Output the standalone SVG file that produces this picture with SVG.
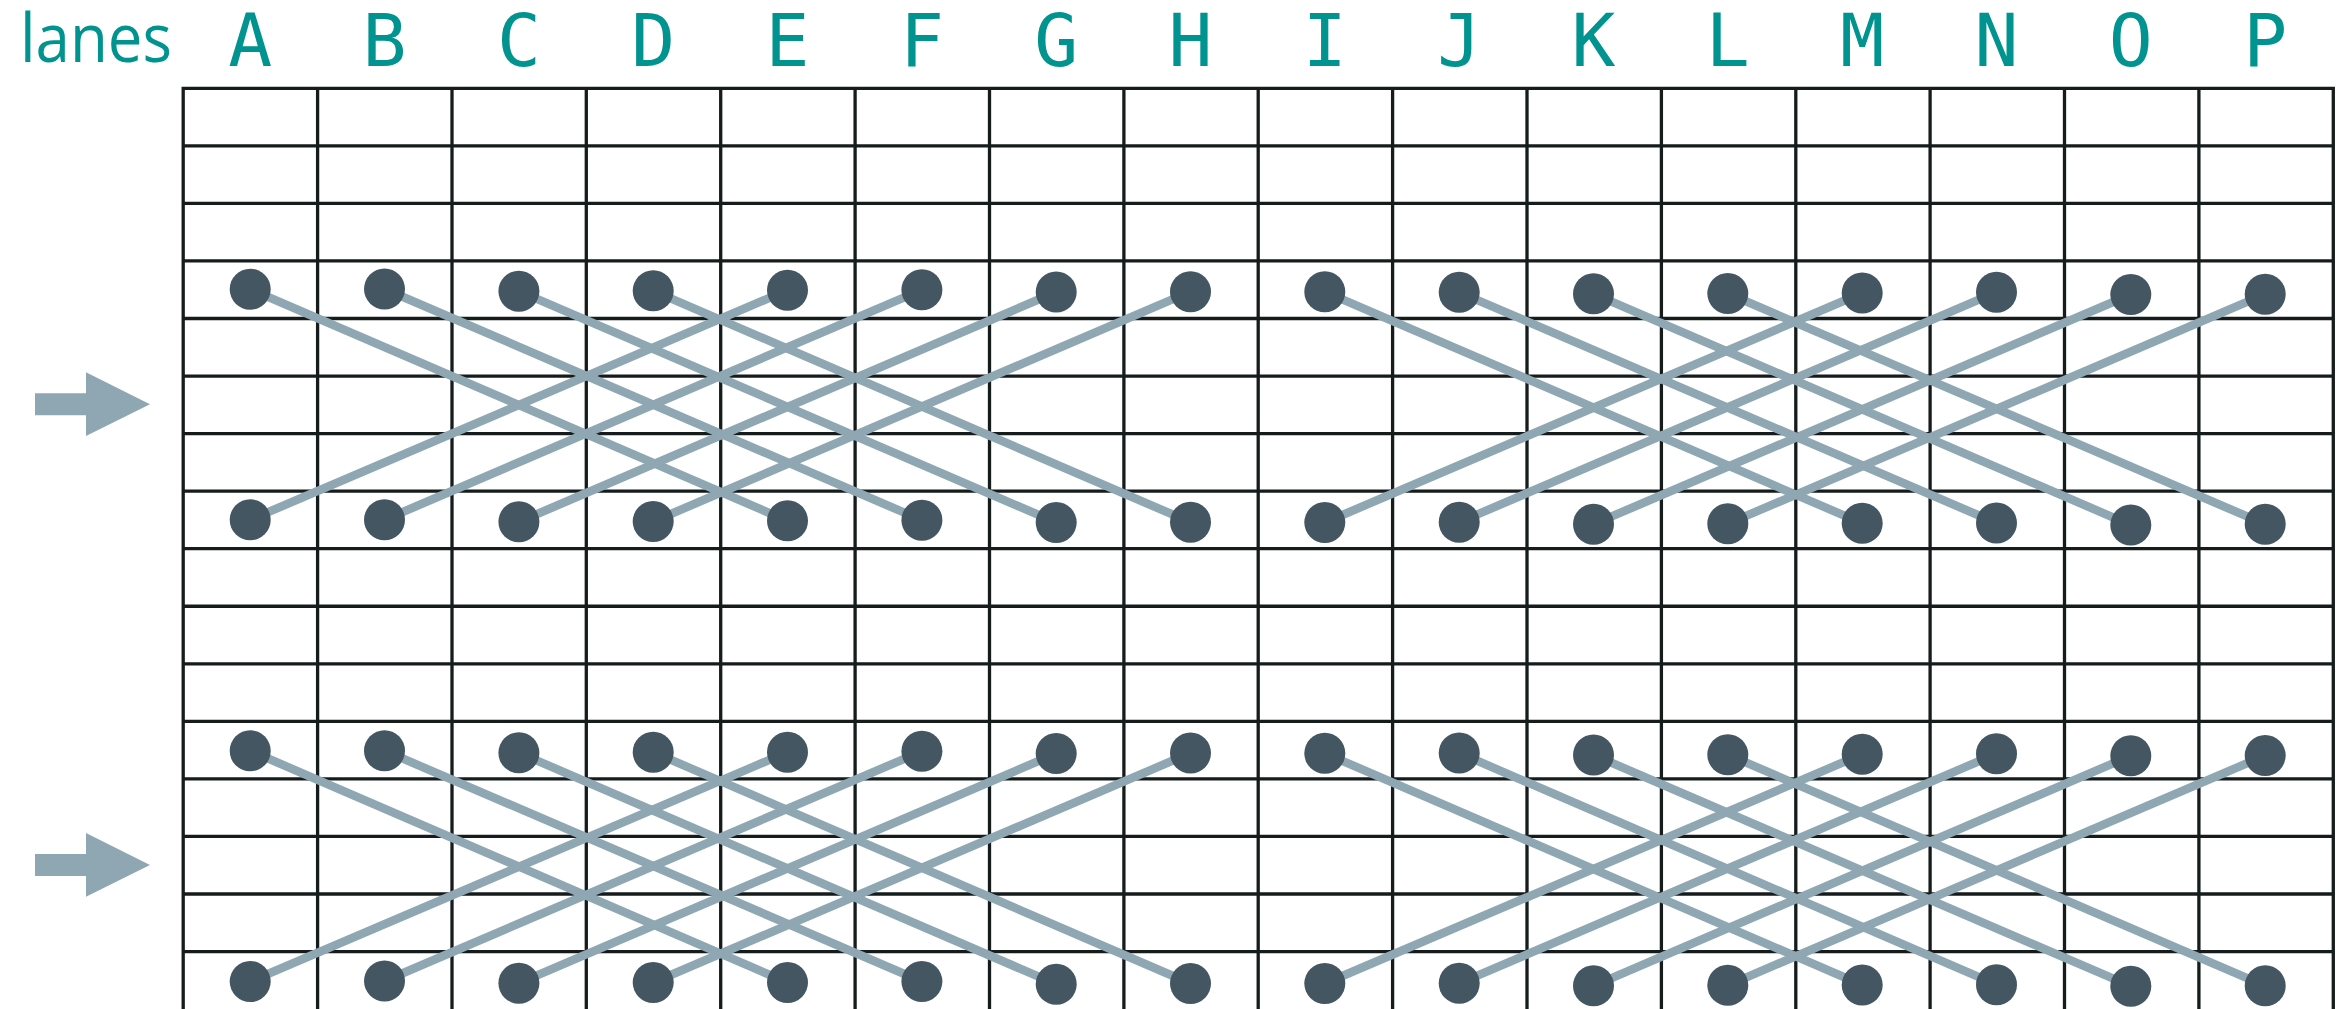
<svg xmlns="http://www.w3.org/2000/svg" xmlns:xlink="http://www.w3.org/1999/xlink" width="2346" height="1009" viewBox="0 0 2346 1009">
<style>
.lbl{font-family:"DejaVu Sans Mono","Liberation Mono",monospace;font-size:73px;fill:#00938F;text-anchor:middle}
.title{font-family:"Open Sans","Noto Sans",sans-serif;font-size:68px;fill:#00938F}
.grid{fill:none;stroke:#161c1c;stroke-width:3.3;stroke-linecap:square}
.conn line{stroke:#8FA7B2;stroke-width:8.5;stroke-linecap:butt}
.dot{fill:#435661}
.arrow{fill:#8FA7B2}
</style>
<defs>
<path id="arr" d="M35,-11 H86 V-32 L150,0 L86,31.8 V11 H35 Z"/>
</defs>
<rect width="2346" height="1009" fill="#ffffff"/>
<g id="labels">
<text class="title" x="20" y="62.3" textLength="152" lengthAdjust="spacingAndGlyphs">lanes</text>
<text class="lbl" x="250.2" y="65.5">A</text>
<text class="lbl" x="384.5" y="65.5">B</text>
<text class="lbl" x="518.9" y="65.5">C</text>
<text class="lbl" x="653.2" y="65.5">D</text>
<text class="lbl" x="787.5" y="65.5">E</text>
<text class="lbl" x="921.9" y="65.5">F</text>
<text class="lbl" x="1056.2" y="65.5">G</text>
<text class="lbl" x="1190.5" y="65.5">H</text>
<text class="lbl" x="1324.8" y="65.5">I</text>
<text class="lbl" x="1459.2" y="65.5">J</text>
<text class="lbl" x="1593.5" y="65.5">K</text>
<text class="lbl" x="1727.8" y="65.5">L</text>
<text class="lbl" x="1862.2" y="65.5">M</text>
<text class="lbl" x="1996.5" y="65.5">N</text>
<text class="lbl" x="2130.8" y="65.5">O</text>
<text class="lbl" x="2265.2" y="65.5">P</text>
</g>
<g id="arrows">
<use xlink:href="#arr" href="#arr" class="arrow" transform="translate(0,404.3)"/>
<use xlink:href="#arr" href="#arr" class="arrow" transform="translate(0,865)"/>
</g>
<g id="grid">
<path class="grid" d="M183.2,88.3V1012 M317.6,88.3V1012 M452,88.3V1012 M586.3,88.3V1012 M720.7,88.3V1012 M855.1,88.3V1012 M989.5,88.3V1012 M1123.9,88.3V1012 M1258.2,88.3V1012 M1392.6,88.3V1012 M1527,88.3V1012 M1661.4,88.3V1012 M1795.8,88.3V1012 M1930.1,88.3V1012 M2064.5,88.3V1012 M2198.9,88.3V1012 M2333.3,88.3V1012
M183.2,88.3H2333.3 M183.2,145.85H2333.3 M183.2,203.4H2333.3 M183.2,260.95H2333.3 M183.2,318.5H2333.3 M183.2,376.05H2333.3 M183.2,433.6H2333.3 M183.2,491.15H2333.3 M183.2,548.7H2333.3 M183.2,606.25H2333.3 M183.2,663.8H2333.3 M183.2,721.35H2333.3 M183.2,778.9H2333.3 M183.2,836.45H2333.3 M183.2,894H2333.3 M183.2,951.55H2333.3"/>
</g>
<g id="connectors" class="conn">
<line x1="250.2" y1="289.2" x2="787.5" y2="520.8"/>
<line x1="384.5" y1="289" x2="921.9" y2="520.2"/>
<line x1="518.9" y1="291.2" x2="1056.2" y2="522.5"/>
<line x1="653.2" y1="290.8" x2="1190.5" y2="522.2"/>
<line x1="250.2" y1="519.8" x2="787.5" y2="290.2"/>
<line x1="384.5" y1="519.8" x2="921.9" y2="289.8"/>
<line x1="518.9" y1="521.8" x2="1056.2" y2="292"/>
<line x1="653.2" y1="521.5" x2="1190.5" y2="291.7"/>
<line x1="1324.8" y1="291.8" x2="1862.2" y2="523.3"/>
<line x1="1459.2" y1="292.3" x2="1996.5" y2="523"/>
<line x1="1593.5" y1="293.8" x2="2130.8" y2="525"/>
<line x1="1727.8" y1="293.5" x2="2265.2" y2="524.2"/>
<line x1="1324.8" y1="522.5" x2="1862.2" y2="293"/>
<line x1="1459.2" y1="522.2" x2="1996.5" y2="292.2"/>
<line x1="1593.5" y1="524.2" x2="2130.8" y2="294.5"/>
<line x1="1727.8" y1="523.7" x2="2265.2" y2="294.2"/>
<line x1="250.2" y1="750.8" x2="787.5" y2="982.5"/>
<line x1="384.5" y1="750.7" x2="921.9" y2="981.5"/>
<line x1="518.9" y1="752.8" x2="1056.2" y2="984.2"/>
<line x1="653.2" y1="752.2" x2="1190.5" y2="983.5"/>
<line x1="250.2" y1="981.5" x2="787.5" y2="752.2"/>
<line x1="384.5" y1="981" x2="921.9" y2="751.3"/>
<line x1="518.9" y1="983.2" x2="1056.2" y2="753.5"/>
<line x1="653.2" y1="982.5" x2="1190.5" y2="753"/>
<line x1="1324.8" y1="753.3" x2="1862.2" y2="985"/>
<line x1="1459.2" y1="753" x2="1996.5" y2="984.7"/>
<line x1="1593.5" y1="755" x2="2130.8" y2="986.2"/>
<line x1="1727.8" y1="754.7" x2="2265.2" y2="985.8"/>
<line x1="1324.8" y1="983.5" x2="1862.2" y2="754.2"/>
<line x1="1459.2" y1="983.3" x2="1996.5" y2="753.7"/>
<line x1="1593.5" y1="985.8" x2="2130.8" y2="755.8"/>
<line x1="1727.8" y1="985.3" x2="2265.2" y2="755.5"/>
</g>
<g id="nodes">
<g id="t1-A"><circle class="dot" cx="250.2" cy="289.2" r="20.5"/></g>
<g id="t1-B"><circle class="dot" cx="384.5" cy="289" r="20.5"/></g>
<g id="t1-C"><circle class="dot" cx="518.9" cy="291.2" r="20.5"/></g>
<g id="t1-D"><circle class="dot" cx="653.2" cy="290.8" r="20.5"/></g>
<g id="t1-E"><circle class="dot" cx="787.5" cy="290.2" r="20.5"/></g>
<g id="t1-F"><circle class="dot" cx="921.9" cy="289.8" r="20.5"/></g>
<g id="t1-G"><circle class="dot" cx="1056.2" cy="292" r="20.5"/></g>
<g id="t1-H"><circle class="dot" cx="1190.5" cy="291.7" r="20.5"/></g>
<g id="t1-I"><circle class="dot" cx="1324.8" cy="291.8" r="20.5"/></g>
<g id="t1-J"><circle class="dot" cx="1459.2" cy="292.3" r="20.5"/></g>
<g id="t1-K"><circle class="dot" cx="1593.5" cy="293.8" r="20.5"/></g>
<g id="t1-L"><circle class="dot" cx="1727.8" cy="293.5" r="20.5"/></g>
<g id="t1-M"><circle class="dot" cx="1862.2" cy="293" r="20.5"/></g>
<g id="t1-N"><circle class="dot" cx="1996.5" cy="292.2" r="20.5"/></g>
<g id="t1-O"><circle class="dot" cx="2130.8" cy="294.5" r="20.5"/></g>
<g id="t1-P"><circle class="dot" cx="2265.2" cy="294.2" r="20.5"/></g>
<g id="b1-A"><circle class="dot" cx="250.2" cy="519.8" r="20.5"/></g>
<g id="b1-B"><circle class="dot" cx="384.5" cy="519.8" r="20.5"/></g>
<g id="b1-C"><circle class="dot" cx="518.9" cy="521.8" r="20.5"/></g>
<g id="b1-D"><circle class="dot" cx="653.2" cy="521.5" r="20.5"/></g>
<g id="b1-E"><circle class="dot" cx="787.5" cy="520.8" r="20.5"/></g>
<g id="b1-F"><circle class="dot" cx="921.9" cy="520.2" r="20.5"/></g>
<g id="b1-G"><circle class="dot" cx="1056.2" cy="522.5" r="20.5"/></g>
<g id="b1-H"><circle class="dot" cx="1190.5" cy="522.2" r="20.5"/></g>
<g id="b1-I"><circle class="dot" cx="1324.8" cy="522.5" r="20.5"/></g>
<g id="b1-J"><circle class="dot" cx="1459.2" cy="522.2" r="20.5"/></g>
<g id="b1-K"><circle class="dot" cx="1593.5" cy="524.2" r="20.5"/></g>
<g id="b1-L"><circle class="dot" cx="1727.8" cy="523.7" r="20.5"/></g>
<g id="b1-M"><circle class="dot" cx="1862.2" cy="523.3" r="20.5"/></g>
<g id="b1-N"><circle class="dot" cx="1996.5" cy="523" r="20.5"/></g>
<g id="b1-O"><circle class="dot" cx="2130.8" cy="525" r="20.5"/></g>
<g id="b1-P"><circle class="dot" cx="2265.2" cy="524.2" r="20.5"/></g>
<g id="t2-A"><circle class="dot" cx="250.2" cy="750.8" r="20.5"/></g>
<g id="t2-B"><circle class="dot" cx="384.5" cy="750.7" r="20.5"/></g>
<g id="t2-C"><circle class="dot" cx="518.9" cy="752.8" r="20.5"/></g>
<g id="t2-D"><circle class="dot" cx="653.2" cy="752.2" r="20.5"/></g>
<g id="t2-E"><circle class="dot" cx="787.5" cy="752.2" r="20.5"/></g>
<g id="t2-F"><circle class="dot" cx="921.9" cy="751.3" r="20.5"/></g>
<g id="t2-G"><circle class="dot" cx="1056.2" cy="753.5" r="20.5"/></g>
<g id="t2-H"><circle class="dot" cx="1190.5" cy="753" r="20.5"/></g>
<g id="t2-I"><circle class="dot" cx="1324.8" cy="753.3" r="20.5"/></g>
<g id="t2-J"><circle class="dot" cx="1459.2" cy="753" r="20.5"/></g>
<g id="t2-K"><circle class="dot" cx="1593.5" cy="755" r="20.5"/></g>
<g id="t2-L"><circle class="dot" cx="1727.8" cy="754.7" r="20.5"/></g>
<g id="t2-M"><circle class="dot" cx="1862.2" cy="754.2" r="20.5"/></g>
<g id="t2-N"><circle class="dot" cx="1996.5" cy="753.7" r="20.5"/></g>
<g id="t2-O"><circle class="dot" cx="2130.8" cy="755.8" r="20.5"/></g>
<g id="t2-P"><circle class="dot" cx="2265.2" cy="755.5" r="20.5"/></g>
<g id="b2-A"><circle class="dot" cx="250.2" cy="981.5" r="20.5"/></g>
<g id="b2-B"><circle class="dot" cx="384.5" cy="981" r="20.5"/></g>
<g id="b2-C"><circle class="dot" cx="518.9" cy="983.2" r="20.5"/></g>
<g id="b2-D"><circle class="dot" cx="653.2" cy="982.5" r="20.5"/></g>
<g id="b2-E"><circle class="dot" cx="787.5" cy="982.5" r="20.5"/></g>
<g id="b2-F"><circle class="dot" cx="921.9" cy="981.5" r="20.5"/></g>
<g id="b2-G"><circle class="dot" cx="1056.2" cy="984.2" r="20.5"/></g>
<g id="b2-H"><circle class="dot" cx="1190.5" cy="983.5" r="20.5"/></g>
<g id="b2-I"><circle class="dot" cx="1324.8" cy="983.5" r="20.5"/></g>
<g id="b2-J"><circle class="dot" cx="1459.2" cy="983.3" r="20.5"/></g>
<g id="b2-K"><circle class="dot" cx="1593.5" cy="985.8" r="20.5"/></g>
<g id="b2-L"><circle class="dot" cx="1727.8" cy="985.3" r="20.5"/></g>
<g id="b2-M"><circle class="dot" cx="1862.2" cy="985" r="20.5"/></g>
<g id="b2-N"><circle class="dot" cx="1996.5" cy="984.7" r="20.5"/></g>
<g id="b2-O"><circle class="dot" cx="2130.8" cy="986.2" r="20.5"/></g>
<g id="b2-P"><circle class="dot" cx="2265.2" cy="985.8" r="20.5"/></g>
</g>
</svg>
